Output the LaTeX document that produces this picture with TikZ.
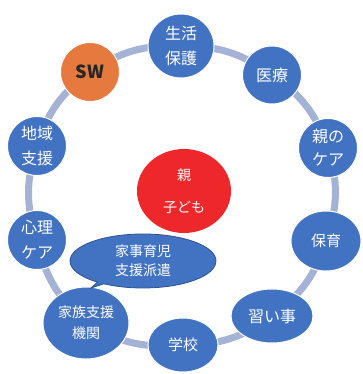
\documentclass[tikz,border=0pt]{standalone}
\usepackage{fontspec}
\setmainfont{Noto Sans CJK JP}
\usetikzlibrary{shapes.geometric,shapes.callouts,backgrounds}
\definecolor{nodeblue}{RGB}{66,114,194}
\definecolor{ringblue}{RGB}{163,178,213}
\definecolor{sworange}{RGB}{230,122,62}
\definecolor{centerred}{RGB}{238,40,42}
\definecolor{calloutedge}{RGB}{47,82,143}
\definecolor{swtext}{RGB}{38,38,38}
\begin{document}
\begin{tikzpicture}[x=1pt,y=1pt,
  ringnode/.style={ellipse,fill=nodeblue,draw=white,line width=1pt,text=white,inner sep=0pt,align=center},
  ringline/.style={draw=ringblue,line width=7pt},
  tsixteen/.style={font=\fontsize{16}{25}\selectfont},
  tfifteen/.style={font=\fontsize{15}{23}\selectfont},
  tfourteen/.style={font=\fontsize{14}{21}\selectfont},
]
\useasboundingbox (0,0) rectangle (362,374);
% ring nodes
\node[ringnode,tsixteen,minimum width=66,minimum height=64] (hogo) at (181,328) {生活\\保護};
\node[ringnode,fill=sworange,text=swtext,font=\fontsize{18}{20}\selectfont\bfseries,minimum width=59,minimum height=59] (sw) at (90,302) {SW};
\node[ringnode,tsixteen,minimum width=59,minimum height=58] (iryo) at (272,299) {医療};
\node[ringnode,tsixteen,font=\fontsize{16}{23}\selectfont,minimum width=59,minimum height=59] (oya) at (328,226) {親の\\ケア};
\node[ringnode,tsixteen,minimum width=59,minimum height=59] (chiiki) at (37,228) {地域\\支援};
\node[ringnode,tsixteen,minimum width=59,minimum height=59] (shinri) at (37,134) {心理\\ケア};
\node[ringnode,tfifteen,minimum width=70,minimum height=60] (hoiku) at (326,133) {保育};
\node[ringnode,tsixteen,minimum width=82,minimum height=54] (narai) at (272,58) {習い事};
\node[ringnode,tfifteen,minimum width=70,minimum height=54] (gakko) at (183,29) {学校};
\node[ringnode,tfourteen,minimum width=86,minimum height=72] (kazoku) at (86,51) {家族支援\\機関};
% ring connectors
\begin{scope}[on background layer]
  \foreach \a/\b in {hogo/iryo,iryo/oya,oya/hoiku,hoiku/narai,narai/gakko,gakko/kazoku,kazoku/shinri,shinri/chiiki,chiiki/sw,sw/hogo}
    \draw[ringline] (\a.center) to[bend left=18] (\b.center);
\end{scope}
% center
\node[ellipse,fill=centerred,text=white,inner sep=0pt,align=center,font=\fontsize{14}{32}\selectfont,minimum width=94,minimum height=84] (oyako) at (184,183) {親\\子ども};
% callout
\coordinate (tail) at (91,86);
\node[ellipse callout,callout absolute pointer={(tail)},callout pointer arc=6,fill=nodeblue,draw=calloutedge,line width=0.8pt,text=white,inner sep=0pt,align=center,font=\fontsize{14}{19}\selectfont,minimum width=146,minimum height=54] (haken) at (143,113) {家事育児\\支援派遣};
\end{tikzpicture}
\end{document}
